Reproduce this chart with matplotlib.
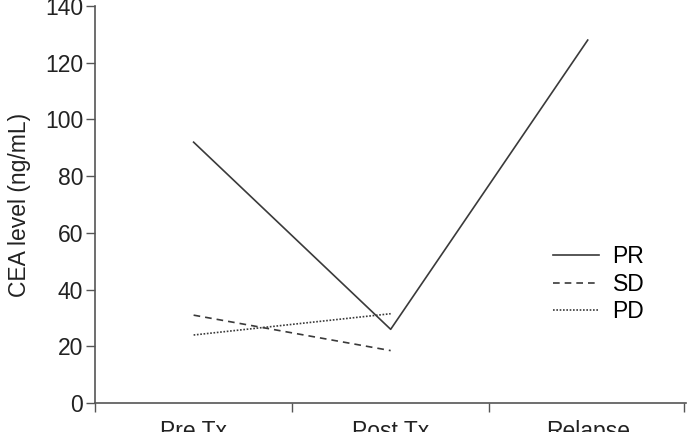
import matplotlib.pyplot as plt

plt.rcParams['font.family'] = ['Liberation Sans', 'DejaVu Sans']

# data
stages = ['Pre Tx', 'Post Tx', 'Relapse']
pr_x = [0, 1, 2]
pr_vals = [92, 26, 128]
sd_x = [0, 1]
sd_vals = [31, 18.5]
pd_x = [0, 1]
pd_vals = [24, 31.5]

fs = 16.5
fig = plt.figure(figsize=(6.89, 4.32), dpi=100)
ax = fig.add_axes([0.138, 0.067, 0.858, 0.919])

col = '#3a3a3a'
ax.plot(pr_x, pr_vals, color=col, lw=1.2, ls='-', label='PR')
ax.plot(sd_x, sd_vals, color=col, lw=1.2, ls=(0, (4, 3)), label='SD')
ax.plot(pd_x, pd_vals, color=col, lw=1.2, ls=(0, (1, 1)), label='PD')

ax.set_xlim(-0.5, 2.5)
ax.set_ylim(0, 140)
ax.set_yticks(range(0, 141, 20))
ax.set_xticks([0, 1, 2])
ax.set_xticklabels(stages)
ax.set_xticks([-0.5, 0.5, 1.5, 2.49], minor=True)
ax.tick_params(axis='x', which='major', length=0, labelsize=fs, pad=12, colors='#222222')
ax.tick_params(axis='x', which='minor', length=6.5, width=1, color='#555555')
ax.tick_params(axis='y', length=6.5, width=1, color='#555555', labelsize=fs,
               labelcolor='#222222', pad=2)
ax.set_ylabel('CEA level (ng/mL)', fontsize=fs, color='#222222', labelpad=10)

for s in ['top', 'right']:
    ax.spines[s].set_visible(False)
for s in ['left', 'bottom']:
    ax.spines[s].set_color('#555555')
    ax.spines[s].set_linewidth(1.2)

ax.legend(loc='upper left', bbox_to_anchor=(0.759, 0.42), frameon=False,
          fontsize=fs, handlelength=2.0, labelspacing=0.18, handletextpad=0.6,
          borderaxespad=0)

fig.savefig('out.png', dpi=100)
